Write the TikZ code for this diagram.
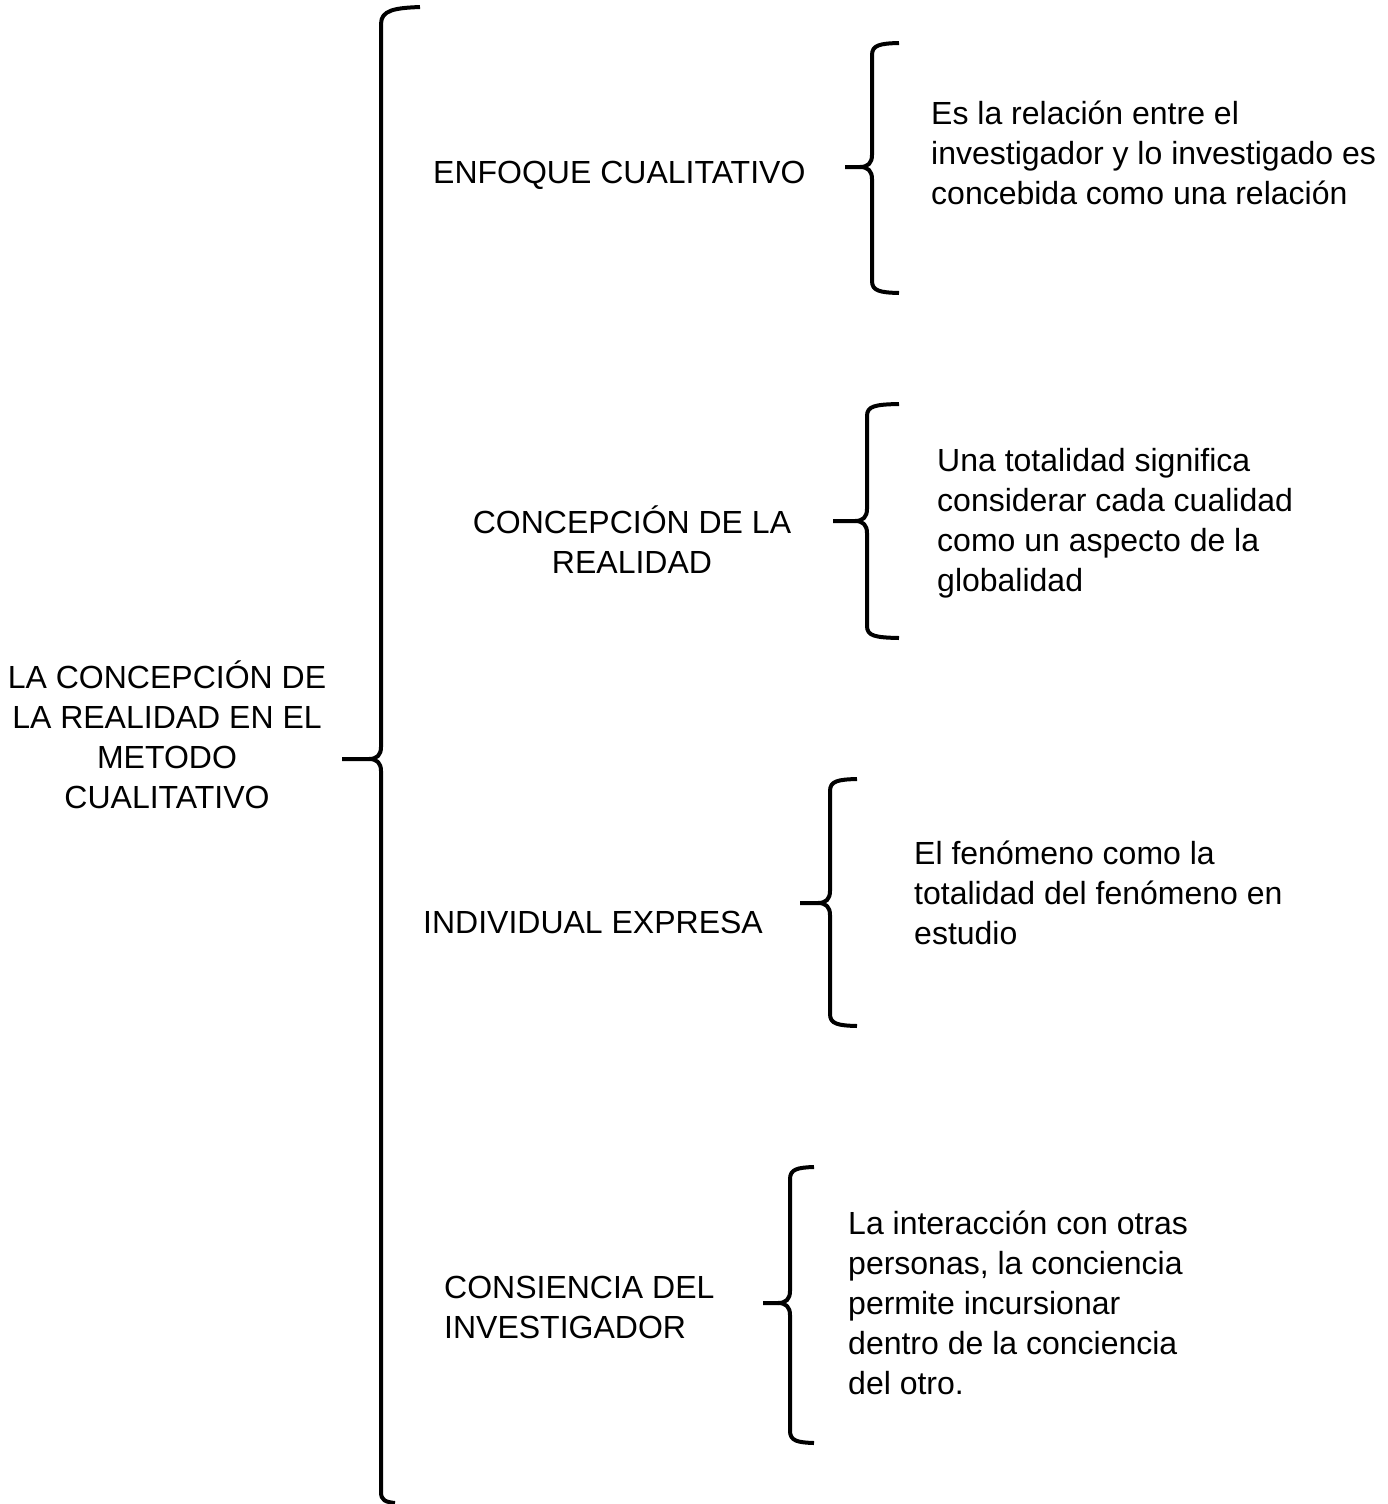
\documentclass[tikz,border=0pt]{standalone}
\usepackage{fontspec}
\setmainfont{Liberation Sans}
\tikzset{
  bracestyle/.style={line width=4pt, line cap=butt, line join=round},
  txt/.style={inner sep=0pt, font=\fontsize{32}{40}\selectfont},
  txtl/.style={txt, align=left, anchor=west},
  txtc/.style={txt, align=center, anchor=center},
}
% #1 vertical x, #2 top y, #3 bottom y, #4 tip x, #5 tip y, #6 top end x, #7 bottom end x
\newcommand\cbrace[7]{%
  \draw[bracestyle] (#6,#2) .. controls (#1+8,#2+0.5) and (#1,#2+2) .. (#1,#2+12)
     -- (#1,#5-12) .. controls (#1,#5-4) and (#1-4,#5) .. (#1-12,#5) -- (#4,#5);
  \draw[bracestyle] (#7,#3) .. controls (#1+8,#3-0.5) and (#1,#3-2) .. (#1,#3-12)
     -- (#1,#5+12) .. controls (#1,#5+4) and (#1-4,#5) .. (#1-12,#5);
}
\begin{document}
\begin{tikzpicture}[x=1pt,y=-1pt]
\useasboundingbox (0,0) rectangle (1387,1504);
% texts
\node[txtc] (root) at (167,740) {\strut LA CONCEPCIÓN DE\\\strut LA REALIDAD EN EL\\\strut METODO\\\strut CUALITATIVO};
\node[txtl] (a) at (433,175) {\strut ENFOQUE CUALITATIVO};
\node[txtl] (ad) at (931,156) {\strut Es la relación entre el\\\strut investigador y lo investigado es\\\strut concebida como una relación};
\node[txtc] (b) at (632,545) {\strut CONCEPCIÓN DE LA\\\strut REALIDAD};
\node[txtl] (bd) at (937,523) {\strut Una totalidad significa\\\strut considerar cada cualidad\\\strut como un aspecto de la\\\strut globalidad};
\node[txtl] (c) at (423,925) {\strut INDIVIDUAL EXPRESA};
\node[txtl] (cd) at (914,896) {\strut El fenómeno como la\\\strut totalidad del fenómeno en\\\strut estudio};
\node[txtl] (d) at (444,1310) {\strut CONSIENCIA DEL\\\strut INVESTIGADOR};
\node[txtl] (dd) at (848,1306) {\strut La interacción con otras\\\strut personas, la conciencia\\\strut permite incursionar\\\strut dentro de la conciencia\\\strut del otro.};
% braces
\draw[bracestyle] (420,7) .. controls (395,8) and (381,10) .. (381,24)
   -- (381,747) .. controls (381,755) and (377,759) .. (369,759) -- (342,759);
\draw[bracestyle] (395,1503) .. controls (385,1502) and (381,1500) .. (381,1492)
   -- (381,771) .. controls (381,763) and (377,759) .. (369,759);
\cbrace{872}{43}{293}{845}{167}{899}{899}
\cbrace{867}{404}{638}{833}{521}{899}{899}
\cbrace{830}{779}{1026}{800}{903}{857}{857}
\cbrace{790}{1167}{1443}{763}{1303}{814}{814}
\end{tikzpicture}
\end{document}
